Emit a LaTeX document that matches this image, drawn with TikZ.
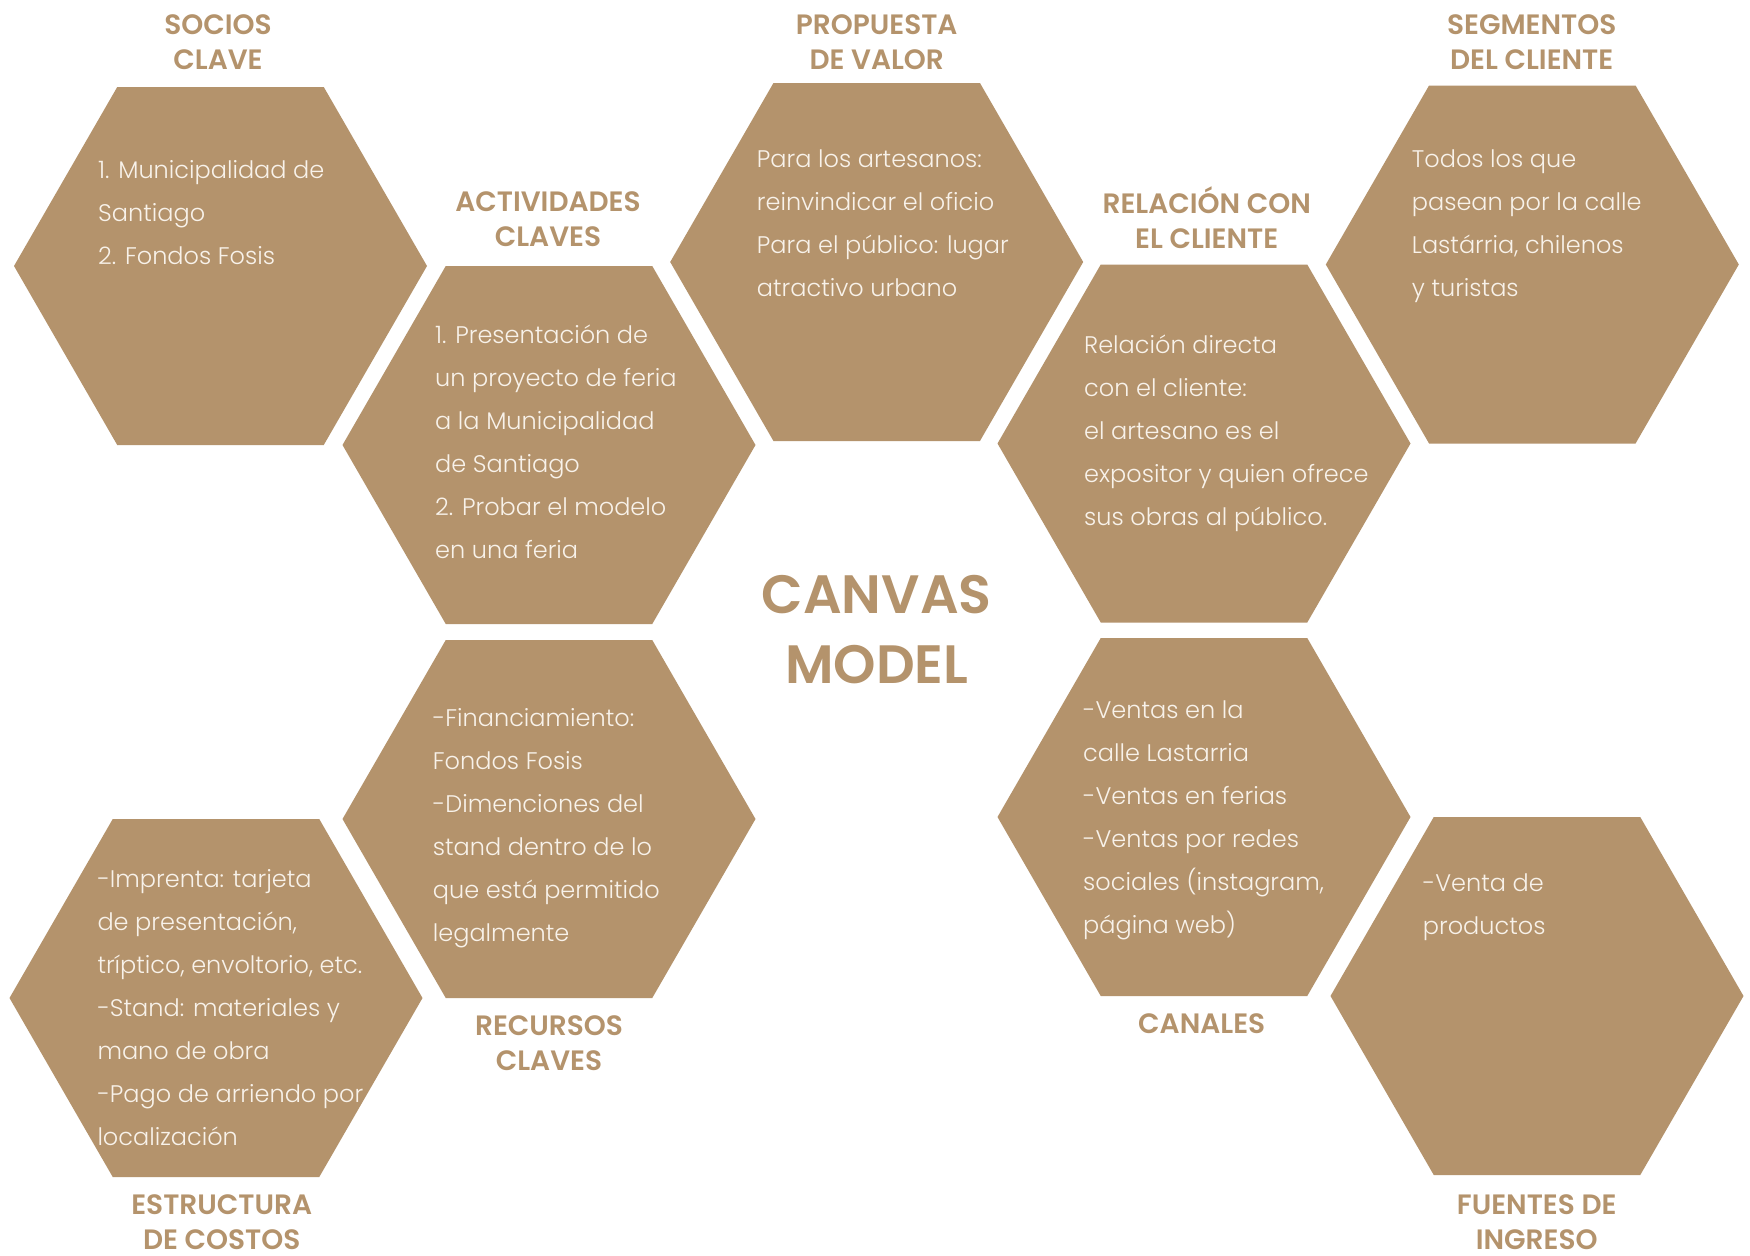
\documentclass[tikz,border=0pt]{standalone}
\usepackage{fontspec}
\setmainfont{Poppins}
\newfontfamily\bodyfont{Poppins Light}
\newfontfamily\headfont{Poppins SemiBold}
\definecolor{tan}{HTML}{B4936C}
\definecolor{cream}{HTML}{F8F2EA}
\newcommand{\hexagonat}[1]{%
  \fill[tan] (#1) ++(206.5,0) -- ++(-103.25,179) -- ++(-206.5,0)
    -- ++(-103.25,-179) -- ++(103.25,-179) -- ++(206.5,0) -- cycle;}
\begin{document}
\begin{tikzpicture}[x=1pt,y=-1pt,
  body/.style={anchor=base west,inner sep=0pt,text=cream,
    font=\bodyfont\fontsize{24}{43}\selectfont},
  head/.style={anchor=base,inner sep=0pt,text=tan,
    font=\headfont\fontsize{28}{35}\selectfont},
  title/.style={anchor=base,inner sep=0pt,text=tan,
    font=\headfont\fontsize{54}{70}\selectfont}]
\useasboundingbox (0,0) rectangle (1750,1255);
\fill[white] (0,0) rectangle (1750,1255);

% hexagon centres
\coordinate (socios) at (220.5,266);
\coordinate (actividades) at (549,445);
\coordinate (propuesta) at (876.7,262);
\coordinate (relacion) at (1204,443.5);
\coordinate (segmentos) at (1532.3,264.5);
\coordinate (estructura) at (216,998);
\coordinate (recursos) at (549,819);
\coordinate (canales) at (1204,817);
\coordinate (fuentes) at (1537,996);

\foreach \c in {socios,actividades,propuesta,relacion,segmentos,
                estructura,recursos,canales,fuentes}{\hexagonat{\c}}

% section headings
\node[head] (hSocios) at (218,35) {\parbox[t]{320pt}{\centering SOCIOS\\CLAVE}};
\node[head] (hActiv) at (548,211.7) {\parbox[t]{320pt}{\centering ACTIVIDADES\\CLAVES}};
\node[head] (hProp) at (876.7,35) {\parbox[t]{320pt}{\centering PROPUESTA\\DE VALOR}};
\node[head] (hRel) at (1206.7,213.3) {\parbox[t]{320pt}{\centering RELACIÓN CON\\EL CLIENTE}};
\node[head] (hSeg) at (1531.7,35) {\parbox[t]{320pt}{\centering SEGMENTOS\\DEL CLIENTE}};
\node[head] (hEst) at (221.7,1214) {\parbox[t]{320pt}{\centering ESTRUCTURA\\DE COSTOS}};
\node[head] (hRec) at (549,1035) {\parbox[t]{320pt}{\centering RECURSOS\\CLAVES}};
\node[head] (hCan) at (1201.7,1033) {\parbox[t]{320pt}{\centering CANALES}};
\node[head] (hFue) at (1536.7,1214) {\parbox[t]{320pt}{\centering FUENTES DE\\INGRESO}};

% central title
\node[title] (titulo) at (876.7,613) {\parbox[t]{400pt}{\centering CANVAS\\MODEL}};

% contents
\node[body] (tSocios) at (98,178) {\parbox[t]{330pt}{\raggedright
  1. Municipalidad de\\Santiago\\2. Fondos Fosis}};
\node[body] (tActiv) at (435,343) {\parbox[t]{330pt}{\raggedright
  1. Presentación de\\un proyecto de feria\\a la Municipalidad\\de Santiago\\2. Probar el modelo\\en una feria}};
\node[body] (tProp) at (756.7,167) {\parbox[t]{330pt}{\raggedright
  Para los artesanos:\\reinvindicar el oficio\\Para el público: lugar\\atractivo urbano}};
\node[body] (tRel) at (1084,353) {\parbox[t]{330pt}{\raggedright
  Relación directa\\con el cliente:\\el artesano es el\\expositor y quien ofrece\\sus obras al público.}};
\node[body] (tSeg) at (1411.7,167) {\parbox[t]{330pt}{\raggedright
  Todos los que\\pasean por la calle\\Lastárria, chilenos\\y turistas}};
\node[body] (tEst) at (97.3,887) {\parbox[t]{330pt}{\raggedright
  -Imprenta: tarjeta\\de presentación,\\tríptico, envoltorio, etc.\\-Stand: materiales y\\mano de obra\\-Pago de arriendo por\\localización}};
\node[body] (tRec) at (432.7,726.7) {\parbox[t]{330pt}{\raggedright
  -Financiamiento:\\Fondos Fosis\\-Dimenciones del\\stand dentro de lo\\que está permitido\\legalmente}};
\node[body] (tCan) at (1083,718) {\parbox[t]{330pt}{\raggedright
  -Ventas en la\\calle Lastarria\\-Ventas en ferias\\-Ventas por redes\\sociales (instagram,\\página web)}};
\node[body] (tFue) at (1422.7,891.7) {\parbox[t]{330pt}{\raggedright
  -Venta de\\productos}};
\end{tikzpicture}
\end{document}
